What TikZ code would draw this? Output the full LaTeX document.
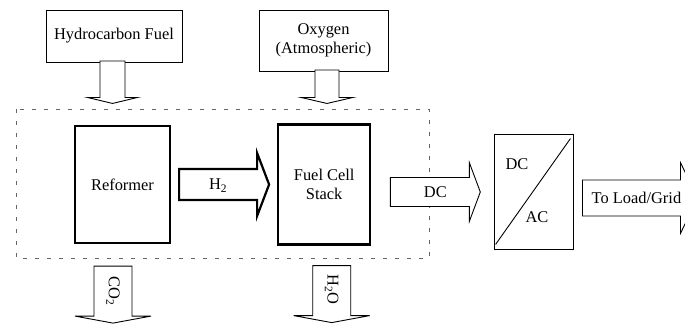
\documentclass[tikz,border=0pt]{standalone}
\usepackage{fontspec}
\setmainfont{Liberation Serif}
\usetikzlibrary{calc,positioning}
\tikzset{
    plant diagram/.style = {x=1pt, y=-1pt,
                            font=\fontsize{16.4}{18.5}\selectfont},
    box/.style           = {draw, line width=0.9pt, fill=white,
                            align=center, inner sep=2pt},
    unit/.style          = {box, line width=2.2pt},
    boundary/.style      = {draw=black!60, line width=0.9pt,
                            dash pattern=on 4pt off 8pt},
    flow/.style          = {draw, line width=0.9pt, fill=white},
    heavy flow/.style    = {flow, line width=2.2pt},
    flow text/.style     = {inner sep=0pt}
}
% block arrow: [style] {tail} {angle} {length} {shaft half} {head half} {head length}
\newcommand{\flowarrow}[7][]{%
    \path[flow, #1, shift={(#2)}, rotate=#3]
        (0,#5) -- (#4-#7,#5) -- (#4-#7,#6) -- (#4,0)
        -- (#4-#7,-#6) -- (#4-#7,-#5) -- (0,-#5) -- cycle;}

\begin{document}
\begin{tikzpicture}[plant diagram]
\useasboundingbox (0,0) rectangle (685,324);

% plant boundary
\draw[boundary] (16,109) rectangle (429,258);

% inputs
\node[box, minimum width=136pt, minimum height=52pt] (fuel)
    at (114,36) {Hydrocarbon Fuel};
\node[box, minimum width=129pt, minimum height=61pt] (oxygen)
    at (323.5,40.5) {Oxygen\\(Atmospheric)};

% processing units
\node[unit, minimum width=95pt, minimum height=117pt] (reformer)
    at (122.5,184.5) {Reformer};
\node[unit, minimum width=92pt, minimum height=120pt, right=106pt of reformer]
    (stack) {Fuel Cell\\Stack};

% power conditioning
\node[box, minimum width=79pt, minimum height=115pt] (inverter)
    at (533.5,191.5) {};
\draw[line width=0.9pt] ($(inverter.south west)+(2,-5)$)
    -- ($(inverter.north east)+(-3,5)$);
\node (invdc) at ($(inverter.center)+(-16.5,-27.5)$) {DC};
\node (invac) at ($(inverter.center)+(3.5,25.5)$) {AC};

% flows
\coordinate (fuel tail) at ($(fuel.south)+(-1.5,-1.5)$);
\coordinate (oxy tail)  at ($(oxygen.south)+(3.5,-1.5)$);
\coordinate (h2 tail)   at ($(reformer.east)+(8,0)$);
\coordinate (dc tail)   at ($(stack.east)+(19,7.5)$);
\coordinate (load tail) at ($(inverter.east)+(9,6.5)$);
\coordinate (co2 tail)  at ($(reformer.south)+(-9.5,22)$);
\coordinate (h2o tail)  at ($(stack.south)+(7.5,20)$);

\flowarrow{fuel tail}{-90}{42.5}{12.5}{25}{6}
\flowarrow{oxy tail}{-90}{33.5}{12}{26}{6}
\flowarrow[heavy flow]{h2 tail}{0}{90}{15.5}{31.5}{12}
\flowarrow{dc tail}{0}{90}{14.5}{29.5}{11}
\flowarrow{load tail}{0}{115}{18}{35.5}{17}
\flowarrow{co2 tail}{-90}{57}{19}{38}{7}
\flowarrow{h2o tail}{-90}{57}{19}{38}{7}

\node[flow text] (h2)   at ($(h2 tail)+(39,1)$)   {H\textsubscript{2}};
\node[flow text] (dc)   at ($(dc tail)+(45,0.5)$) {DC};
\node[flow text] (load) at ($(load tail)+(54,0)$) {To Load/Grid};
\node[flow text, rotate=-90] (co2) at ($(co2 tail)+(0,25)$) {CO\textsubscript{2}};
\node[flow text, rotate=-90] (h2o) at ($(h2o tail)+(0,24)$) {H\textsubscript{2}O};

\end{tikzpicture}
\end{document}
